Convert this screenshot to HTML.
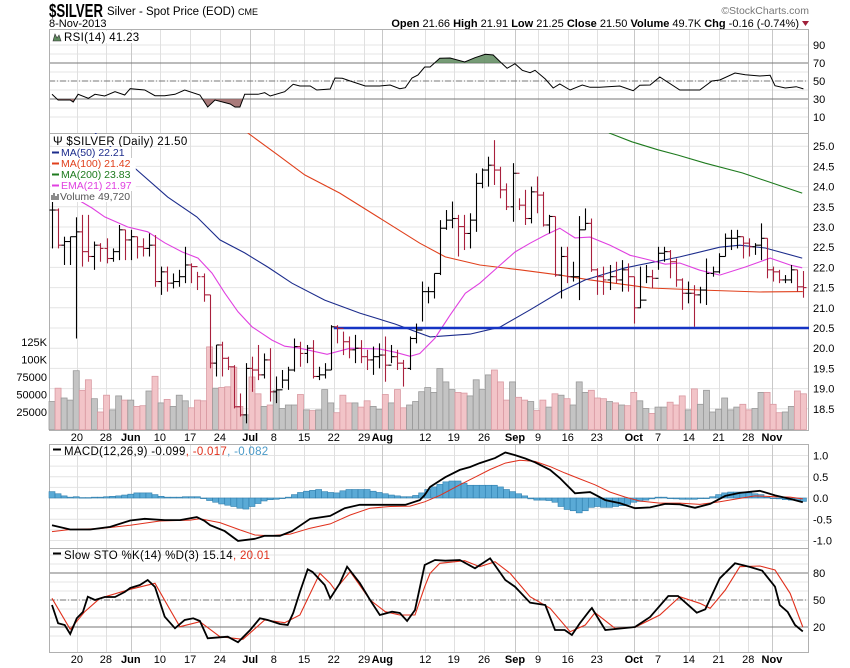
<!DOCTYPE html>
<html><head><meta charset="utf-8"><title>$SILVER chart</title>
<style>
html,body{margin:0;padding:0;background:#fff;}
svg{display:block;font-family:"Liberation Sans",sans-serif;}
</style></head>
<body>
<svg id="chart" width="850" height="668" viewBox="0 0 850 668" xmlns="http://www.w3.org/2000/svg">
<defs>
<clipPath id="clipAbove70"><rect x="49" y="29" width="760" height="34"/></clipPath>
<clipPath id="clipBelow30"><rect x="49" y="99" width="760" height="34"/></clipPath>
<clipPath id="clipPrice"><rect x="49" y="133" width="760" height="297"/></clipPath>
</defs>
<text x="49" y="17" font-size="18" font-weight="bold" fill="#000" textLength="54" lengthAdjust="spacingAndGlyphs">$SILVER</text>
<text x="107" y="15" font-size="11.5" fill="#000">Silver - Spot Price (EOD) <tspan font-size="9">CME</tspan></text>
<text x="49" y="27" font-size="11" fill="#000">8-Nov-2013</text>
<text x="809" y="14" font-size="10.5" fill="#777" text-anchor="end">©StockCharts.com</text>
<text x="799" y="27" font-size="11" fill="#000" text-anchor="end"><tspan font-weight="bold">Open</tspan> 21.66  <tspan font-weight="bold">High</tspan> 21.91  <tspan font-weight="bold">Low</tspan> 21.25  <tspan font-weight="bold">Close</tspan> 21.50  <tspan font-weight="bold">Volume</tspan> 49.7K  <tspan font-weight="bold">Chg</tspan> -0.16 (-0.74%)</text>
<polygon points="802,21 809,21 805.5,26" fill="#a0203a"/>
<g id="grid"></g>
<g id="marks"></g>
<g id="labels"></g>
</svg>
<script>
// ---------- DATA ----------
const priceHigh = [23.67,23.46,22.76,22.76,23.24,23.30,23.30,22.64,22.60,22.72,22.47,23.05,22.93,22.93,22.76,22.72,22.84,22.80,22.02,22.02,21.85,21.94,22.51,22.10,21.89,21.85,21.32,20.08,20.16,19.79,19.58,18.88,19.63,19.79,20.08,19.87,20.00,19.30,19.46,19.54,20.24,20.16,20.08,20.20,19.54,19.63,20.57,20.57,20.41,20.29,20.33,20.20,19.96,20.04,20.12,20.29,20.08,19.96,19.71,20.29,20.61,21.65,21.52,21.85,23.17,23.42,23.63,23.30,23.30,23.34,24.33,24.45,24.74,25.15,24.49,24.08,24.58,23.71,23.92,24.00,24.25,23.87,23.30,23.26,22.51,22.51,22.14,23.27,23.46,23.21,21.98,22.02,22.06,22.14,22.18,22.10,21.77,22.02,22.06,21.94,22.51,22.51,22.43,22.22,21.73,21.65,21.56,21.52,22.22,22.02,22.35,22.84,22.93,22.93,22.76,22.72,22.60,23.09,22.72,22.02,21.94,21.81,22.06,21.94,21.91];
const priceLow = [22.47,22.47,22.06,22.06,20.24,22.02,22.14,21.94,22.14,22.10,22.14,22.18,22.18,22.18,22.22,22.27,22.27,21.52,21.32,21.40,21.48,21.52,21.61,21.61,21.44,21.15,19.50,19.30,19.30,19.46,18.51,18.31,18.14,18.92,19.21,19.25,18.68,18.64,19.01,18.97,19.42,19.54,19.63,19.25,19.21,19.25,19.46,20.12,19.83,19.75,19.63,19.63,19.46,19.34,19.50,19.17,19.63,19.46,19.05,19.46,20.12,20.66,21.11,21.23,21.81,22.93,22.97,22.27,22.43,22.47,22.88,23.96,24.00,24.04,23.71,23.42,23.13,23.42,23.05,23.09,23.34,23.01,22.84,21.77,21.23,21.61,21.65,21.19,22.93,21.89,21.32,21.32,21.44,21.61,21.40,21.40,20.61,20.99,21.61,21.48,21.94,22.14,21.73,21.52,20.95,21.11,20.53,21.11,21.07,21.77,21.85,22.27,22.43,22.47,22.22,22.27,22.31,22.18,21.73,21.65,21.61,21.61,21.61,21.40,21.25];
const priceClose = [23.42,22.55,22.64,22.76,22.88,22.39,22.27,22.55,22.47,22.22,22.39,22.93,22.68,22.76,22.51,22.47,22.55,21.65,21.89,21.61,21.65,21.77,22.06,22.02,21.77,21.32,19.63,20.08,19.75,19.54,18.55,18.35,19.50,19.46,19.34,19.71,18.92,18.97,19.21,19.46,20.04,19.87,20.00,19.30,19.34,19.46,20.53,20.49,20.16,19.96,20.00,19.79,19.71,19.79,19.83,19.58,19.79,19.63,19.50,20.24,20.45,21.40,21.40,21.85,22.97,23.17,23.21,23.01,22.84,23.17,24.08,24.41,24.53,24.41,23.92,23.50,24.33,23.54,23.21,23.87,23.79,23.05,23.26,21.81,22.27,21.77,21.77,22.93,23.09,21.94,21.77,21.69,21.77,21.69,21.94,21.77,21.00,21.19,21.77,21.73,22.35,22.39,22.14,21.69,21.36,21.36,21.32,21.44,21.85,21.89,22.27,22.72,22.72,22.76,22.60,22.51,22.55,22.72,21.94,21.89,21.69,21.69,21.94,21.52,21.50];
const volumeK = [40,59,45,42,84,56,71,44,25,49,28,48,42,42,33,34,55,76,38,43,33,49,41,31,42,41,118,59,60,61,89,33,21,75,51,33,35,56,30,35,35,50,28,27,28,57,38,24,49,38,38,32,41,33,29,50,38,57,31,35,40,54,60,53,87,68,57,53,52,48,71,57,78,85,68,42,68,46,42,40,27,42,32,51,49,44,35,68,53,56,45,44,40,38,35,34,53,41,30,23,32,32,39,35,48,28,58,36,56,25,29,45,28,32,36,28,30,53,53,36,24,25,33,55,51];

const ma50Idx = [7.1,12.5,19.1,23.9,27.7,31.8,35.6,39.6,45,50.8,56.6,62.4,69,73.9,78.9,83.8,88,94.6,103.6,110.2,113.5,117.7,123.8];
const ma50Val = [25.33,24.61,23.74,23.25,22.68,22.36,22.01,21.61,21.19,20.87,20.60,20.28,20.35,20.52,20.95,21.39,21.69,21.99,22.26,22.50,22.55,22.48,22.23];
const ma100Idx = [32.3,37.3,41.7,47.5,54.1,60.7,64.9,70.6,77.2,83.8,88.8,98.7,106.9,116.8,123.9];
const ma100Val = [25.33,24.78,24.29,23.84,23.22,22.60,22.26,22.06,21.94,21.81,21.69,21.49,21.44,21.39,21.40];
const ma200Idx = [91.9,95.7,100,103.3,107.8,113.9,123.8];
const ma200Val = [25.33,25.11,24.91,24.78,24.58,24.34,23.84];
const emaIdx = [4.3,6.6,8.7,12.5,15.8,18.6,21.5,24.1,26.4,28.5,30.7,33,36.3,38.4,40.9,45.4,49.2,54.1,56.6,59.1,60.7,63.2,65.7,68.2,70.6,73.9,76.4,78.9,81.4,83.8,86.3,88.8,92.1,95.4,98.7,101.2,103.6,106.9,110.2,114.4,118.5,121.8,123.8];
const emaVal = [23.67,23.47,23.25,23.00,22.88,22.61,22.38,22.23,21.86,21.37,20.90,20.53,20.20,20.05,20.00,19.85,20.00,19.98,19.90,19.80,19.87,20.25,20.82,21.36,21.61,22.05,22.38,22.60,22.80,22.97,22.73,22.75,22.55,22.30,22.18,22.08,22.11,21.93,21.81,22.01,22.23,22.06,21.99];
const supportLevel = 20.5;
const supportStartIdx = 47;

const rsiIdx = [0,1,3,3.5,4.3,6,7.1,8.7,10.4,12,12.9,15.3,17,18.6,20.3,21.9,24.4,25.7,26.9,29.4,30.2,31,31.8,34,35.1,36,38.4,39.8,40.9,42.6,43.7,45.9,46.7,47.9,49.2,51.7,54.1,55.8,57.4,58.3,59.4,60.4,61.5,62.4,64,65.7,68.1,69.8,71.5,72.8,74,75.1,76.4,77.6,78.9,79.7,81.4,82.7,83.8,85.5,87.5,88.8,90.4,93.7,95.9,97,98.7,100.3,103.6,106.9,108.9,110.2,112.7,114.4,116.8,118.5,119.3,121,122.8,124];
const rsiVal = [35.2,28.9,28.9,26.7,35.2,30.8,35.2,33.3,38.1,34.4,41.4,40,33.7,33.7,35.2,40,34.4,21.1,28.9,24.4,21.1,21.1,35.2,35.2,37,33.3,38.1,46.3,44.4,44.4,40,41.1,53.3,53,50,44.4,44.4,45.6,41.4,42.6,53.3,56.7,65.6,65.6,75.2,75.6,71.1,75.9,79.7,78.9,71.1,64.1,69.2,61.9,59.2,61.9,52.2,42.2,46.7,40,45.6,43,43,44.4,39.2,45.2,45.6,54.4,40,40,50,51.1,58.9,57,55.6,56.3,44.8,42.2,43.7,41.2];

const macdIdx = [0,3,6.3,9.6,12.9,15.3,18.6,21.1,23.9,25.2,26.1,28.5,30.7,33.5,35.1,37.6,39.6,42.6,45.9,48.3,50.8,54.1,58.3,60.7,61.5,62.4,64.9,67.3,69,70.6,73.1,74.8,76.4,78.1,79.7,82.2,83.8,86.3,88.8,91.3,93.7,96.2,98.7,101.2,103.6,106.1,108.6,111.1,113.5,116.8,119.3,121.8,123.9];
const macdVal = [-0.64,-0.74,-0.74,-0.68,-0.53,-0.49,-0.52,-0.52,-0.45,-0.54,-0.64,-0.78,-1.01,-0.96,-0.89,-0.89,-0.78,-0.49,-0.42,-0.24,-0.16,-0.16,-0.16,-0.05,0.07,0.26,0.49,0.66,0.73,0.82,0.94,1.07,1.01,0.93,0.84,0.66,0.47,0.11,0.14,-0.05,-0.12,-0.24,-0.22,-0.14,-0.15,-0.23,-0.14,0.05,0.12,0.17,0.06,-0.02,-0.10];
const signalIdx = [0,3,7.9,12.9,17.8,22.8,24.4,27.7,31,33.5,36,39.3,42.6,45.9,49.2,52.5,55.8,59.1,61.5,64,67.3,69.8,72.3,74.8,77.2,79.7,82.2,84.6,87.1,89.6,92.1,94.6,97,100.3,103.6,106.9,110.2,113.5,116,119.3,121.8,123.9];
const signalVal = [-0.79,-0.74,-0.72,-0.64,-0.54,-0.52,-0.49,-0.58,-0.75,-0.87,-0.89,-0.85,-0.71,-0.61,-0.40,-0.24,-0.20,-0.19,-0.09,0.06,0.31,0.49,0.67,0.82,0.89,0.86,0.74,0.59,0.45,0.31,0.14,0.02,-0.07,-0.12,-0.12,-0.15,-0.09,-0.01,0.05,0.03,0.02,-0.02];
const histVal = [0.15,0.10,0.05,0.02,0.03,0.01,0.01,0.02,0.02,0.03,0.04,0.05,0.07,0.09,0.12,0.12,0.12,0.08,0.04,0.02,0.02,0.02,0.03,0.03,0.03,0.0,-0.06,-0.10,-0.14,-0.17,-0.20,-0.24,-0.26,-0.20,-0.13,-0.07,-0.04,-0.03,-0.01,0.02,0.08,0.13,0.16,0.18,0.20,0.15,0.13,0.12,0.17,0.20,0.20,0.20,0.20,0.16,0.13,0.10,0.07,0.05,0.03,0.03,0.06,0.12,0.20,0.26,0.32,0.38,0.40,0.40,0.35,0.30,0.30,0.30,0.30,0.30,0.26,0.20,0.15,0.10,0.05,-0.02,-0.05,-0.05,-0.06,-0.10,-0.20,-0.27,-0.30,-0.35,-0.30,-0.22,-0.20,-0.22,-0.22,-0.20,-0.18,-0.15,-0.10,-0.08,-0.05,-0.02,0.02,0.02,0.0,-0.02,-0.03,-0.03,-0.03,-0.01,0.0,0.03,0.08,0.12,0.14,0.14,0.14,0.12,0.10,0.08,0.02,0.0,-0.02,-0.04,-0.05,-0.06,-0.08];

const stoKIdx = [0,1,2.1,3,4.1,5.1,5.9,7.1,8.7,10.4,12,12.9,14.5,15.8,17,18.6,20.3,21.9,23.3,24.4,25.7,27.7,29,30.7,32.7,34.3,35.6,37.6,38.9,39.8,40.9,42.2,43,45,45.9,47.5,48.7,50.8,52.5,54.1,56.1,57.4,58.6,59.9,61.5,63.2,64.9,67.3,69.8,72.3,74.8,76.4,78.9,81.4,83,84.6,85.8,87.1,88.8,89.1,91.3,94.6,96.2,98.7,101.7,103.3,105.3,106.4,107.8,110.2,112.7,115.2,117.2,119.3,120.1,121.4,122.6,123.9];
const stoKVal = [44.4,24.1,22.2,12.2,29.7,36.7,53.7,50,53.3,53.3,58.9,63.3,66.7,72.2,64.4,31.4,18.6,27.8,29.7,26.7,7.4,8.6,9.2,3,16.7,29.7,27.8,23.3,22.2,35.6,58.9,84.1,81.1,66.7,51.9,68.6,87,68.9,50,33.3,37,35.6,26.7,38.9,88.9,94.4,93.7,94.4,85.2,96.3,72.2,64.8,47,44.4,16.7,16.7,11.1,24.1,38.9,41.1,16.7,18.9,20,31.1,54.4,54.4,42.6,35.9,39.7,74.1,90.8,86.7,82.6,64.8,44.4,36.7,22.2,15.1];
const stoDIdx = [0,3,5.4,7.9,12.9,17,19.5,21.1,24.4,27.7,31.5,35.1,38.4,40.9,44.2,45.9,46.7,49.2,52.5,55,57.4,59.9,61.5,62.4,64,68.1,70.6,73.1,75.6,78.9,82.2,85.5,88,89.6,92.9,96.2,100.3,103.6,106.9,108.6,111.1,113.5,116.8,119.3,121.8,123.9];
const stoDVal = [51.9,17.4,37,51.9,61.9,68.6,38.9,20.3,25.9,9.2,6.3,27.8,24.8,33.3,79.7,68.6,61.1,81.4,50,37,33.3,33.3,64.8,79.7,90.8,93.7,87,92.6,79.7,53.7,40.8,14.8,22.2,35.9,18.6,19.7,33.3,53.7,46.3,40.8,61.1,87,87.8,83.3,57.4,20.0];

const tickIdx = [4.1,8.9,13.0,17.8,22.8,27.7,32.7,36.6,41.6,46.5,51.5,54.5,61.6,66.3,71.3,76.4,80.2,85.1,89.9,96.0,100.0,105.1,110.0,114.9,118.8];
const tickLabels = ["20","28","Jun","10","17","24","Jul","8","15","22","29","Aug","12","19","26","Sep","9","16","23","Oct","7","14","21","28","Nov"];
const rsiTicks = [90,70,50,30,10];
const priceTicks = [18.5,19.0,19.5,20.0,20.5,21.0,21.5,22.0,22.5,23.0,23.5,24.0,24.5,25.0];
const volTicks = [25000,50000,75000,100000,125000];
const volTickLabels = ["25000","50000","75000","100K","125K"];
const macdTicks = [1.0,0.5,0.0,-0.5,-1.0];
const stoTicks = [80,50,20];

// ---------- SCALES ----------
const PL = 49, PR = 809;
const X = i => 52 + i * 6.06;
const yRSI = v => 126 - v * 0.9;
const yP = p => 328 - (p - 20.5) * 40.4;
const yV = k => 429.5 - k * 0.7;
const yM = v => 498 - v * 42.5;
const yS = v => 645 - v * 0.9;

const NS = "http://www.w3.org/2000/svg";
const gGrid = document.getElementById("grid");
const gMarks = document.getElementById("marks");
const gLab = document.getElementById("labels");
function mk(parent, tag, attrs) {
  const e = document.createElementNS(NS, tag);
  for (const k in attrs) e.setAttribute(k, attrs[k]);
  parent.appendChild(e);
  return e;
}
function txt(parent, x, y, s, attrs) {
  const e = mk(parent, "text", Object.assign({x: x, y: y, "font-size": 11, fill: "#000"}, attrs || {}));
  e.textContent = s;
  return e;
}
function pts(idx, val, fy) { return idx.map((v, k) => X(v).toFixed(1) + "," + fy(val[k]).toFixed(1)).join(" "); }

// ---------- PANELS & GRID ----------
const panels = [
  {name: "rsi-panel", top: 29, bot: 133},
  {name: "price-panel", top: 133, bot: 430},
  {name: "macd-panel", top: 444, bot: 548},
  {name: "stochastic-panel", top: 548, bot: 652}
];
panels.forEach(p => {
  const r = mk(gGrid, "rect", {x: PL, y: p.top, width: PR - PL, height: p.bot - p.top, fill: "#fff", stroke: "none"});
  
  
});
for (let v = 10; v <= 90; v += 10) {
  const l = mk(gGrid, "line", {x1: PL, x2: PR, y1: yRSI(v), y2: yRSI(v), stroke: "#e4e4e4", "stroke-width": 1});
  
  
}
priceTicks.forEach(v => {
  const l = mk(gGrid, "line", {x1: PL, x2: PR, y1: yP(v), y2: yP(v), stroke: "#e4e4e4", "stroke-width": 1});
  
  
});
for (let v = -1.0; v <= 1.01; v += 0.25) {
  const l = mk(gGrid, "line", {x1: PL, x2: PR, y1: yM(v), y2: yM(v), stroke: "#e4e4e4", "stroke-width": 1});
  
  
}
for (let v = 10; v <= 100; v += 10) {
  const l = mk(gGrid, "line", {x1: PL, x2: PR, y1: yS(v), y2: yS(v), stroke: "#e4e4e4", "stroke-width": 1});
  
  
}
tickIdx.forEach((ti, k) => {
  const x = Math.round(X(ti)) + 0.5;
  const month = isNaN(+tickLabels[k]);
  panels.forEach(p => {
    const l = mk(gGrid, "line", {x1: x, x2: x, y1: p.top, y2: p.bot, stroke: month ? "#c8c8c8" : "#e0e0e0", "stroke-width": 1});
    
    
  });
});
[[yRSI(70), "none"], [yRSI(30), "none"], [yRSI(50), "6,2,1,2"], [yS(80), "none"], [yS(20), "none"], [yS(50), "6,2,1,2"]].forEach(([y, d]) => {
  const l = mk(gGrid, "line", {x1: PL, x2: PR, y1: y, y2: y, stroke: "#777", "stroke-width": 1, "stroke-dasharray": d});
  
  
});
panels.forEach(p => {
  const r = mk(gGrid, "rect", {x: PL + 0.5, y: p.top + 0.5, width: PR - PL - 1, height: p.bot - p.top, fill: "none", stroke: "#b0b0b0", "stroke-width": 1});
  
  
});

// ---------- RSI ----------
{
  const line = pts(rsiIdx, rsiVal, yRSI);
  const first = X(rsiIdx[0]).toFixed(1), last = X(rsiIdx[rsiIdx.length - 1]).toFixed(1);
  const up = mk(gMarks, "polygon", {points: first + "," + yRSI(70) + " " + line + " " + last + "," + yRSI(70), fill: "#5e8a5e", "fill-opacity": 0.85, "clip-path": "url(#clipAbove70)"});
  
  
  const dn = mk(gMarks, "polygon", {points: first + "," + yRSI(30) + " " + line + " " + last + "," + yRSI(30), fill: "#9a6464", "fill-opacity": 0.85, "clip-path": "url(#clipBelow30)"});
  
  
  const pl = mk(gMarks, "polyline", {points: line, fill: "none", stroke: "#000", "stroke-width": 1});
  
  
}

// ---------- VOLUME ----------
volumeK.forEach((v, i) => {
  const down = i > 0 && priceClose[i] < priceClose[i - 1];
  const y = yV(v);
  const r = mk(gMarks, "rect", {x: X(i) - 3, y: y, width: 6, height: 429.5 - y, fill: down ? "#f2c4c8" : "#c4c4c4", stroke: down ? "#d99aa2" : "#9a9a9a", "stroke-width": 0.8});
  
  
});

// ---------- MOVING AVERAGES ----------
[[ma100Idx, ma100Val, "#e0401c", "ma100-line"], [ma50Idx, ma50Val, "#1c2c8c", "ma50-line"], [ma200Idx, ma200Val, "#1e7a1e", "ma200-line"], [emaIdx, emaVal, "#e040e0", "ema21-line"]].forEach(([ix, vv, c, n]) => {
  const pl = mk(gMarks, "polyline", {points: pts(ix, vv, yP), fill: "none", stroke: c, "stroke-width": 1.1, "clip-path": "url(#clipPrice)"});
  
  
});
{
  const sl = mk(gMarks, "line", {x1: X(supportStartIdx) - 3, x2: PR, y1: yP(supportLevel), y2: yP(supportLevel), stroke: "#1534c4", "stroke-width": 2.5});
  
  
}

// ---------- PRICE BARS ----------
priceClose.forEach((c, i) => {
  const open = i > 0 ? priceClose[i - 1] : c;
  const down = i > 0 && c < priceClose[i - 1];
  const col = down ? "#a8203c" : "#000";
  const x = Math.round(X(i)) + 0.5;
  const g = mk(gMarks, "g", {stroke: col, "stroke-width": 1.1});
  
  
  mk(g, "line", {x1: x, x2: x, y1: yP(priceHigh[i]), y2: yP(priceLow[i])});
  mk(g, "line", {x1: x - 3, x2: x, y1: yP(open), y2: yP(open)});
  mk(g, "line", {x1: x, x2: x + 3, y1: yP(c), y2: yP(c)});
});

// ---------- MACD ----------
histVal.forEach((v, i) => {
  const y0 = yM(0), y1 = yM(v);
  const r = mk(gMarks, "rect", {x: X(i) - 3, y: Math.min(y0, y1), width: 6, height: Math.max(0.6, Math.abs(y1 - y0)), fill: "#5aaad6", stroke: "#2f7fae", "stroke-width": 0.6});
  
  
});
{
  const s = mk(gMarks, "polyline", {points: pts(signalIdx, signalVal, yM), fill: "none", stroke: "#e0301c", "stroke-width": 1});
  
  
  const m = mk(gMarks, "polyline", {points: pts(macdIdx, macdVal, yM), fill: "none", stroke: "#000", "stroke-width": 1.8});
  
  
}

// ---------- STOCHASTIC ----------
{
  const d = mk(gMarks, "polyline", {points: pts(stoDIdx, stoDVal, yS), fill: "none", stroke: "#e0301c", "stroke-width": 1.1});
  
  
  const k = mk(gMarks, "polyline", {points: pts(stoKIdx, stoKVal, yS), fill: "none", stroke: "#000", "stroke-width": 1.8});
  
  
}

// ---------- AXIS LABELS ----------
rsiTicks.forEach(v => {
  const t = txt(gLab, 813, yRSI(v) + 4, String(v));
  
  
});
priceTicks.forEach(v => {
  const t = txt(gLab, 813, yP(v) + 4, v.toFixed(1));
  
  
});
volTicks.forEach((v, k) => {
  const t = txt(gLab, 47, yV(v / 1000) + 4, volTickLabels[k], {"text-anchor": "end"});
  
  
});
macdTicks.forEach(v => {
  const t = txt(gLab, 813, yM(v) + 4, v.toFixed(1));
  
  
});
stoTicks.forEach(v => {
  const t = txt(gLab, 813, yS(v) + 4, String(v));
  
  
});
tickIdx.forEach((ti, k) => {
  const month = isNaN(+tickLabels[k]);
  [441, 663].forEach(y => {
    const t = txt(gLab, X(ti), y, tickLabels[k], {"text-anchor": "middle", "font-weight": month ? "bold" : "normal"});
    
    
  });
});

// ---------- TITLES / LEGENDS ----------
function legendLine(x, y, color, label, name) {
  const b = mk(gLab, "rect", {x: x - 1, y: y - 9, width: label.length * 5.6 + 12, height: 11, fill: "#fff"});
  
  
  const l = mk(gLab, "line", {x1: x, x2: x + 7, y1: y - 3.5, y2: y - 3.5, stroke: color, "stroke-width": 2});
  
  
  const t = txt(gLab, x + 9, y, label, {fill: color, "font-size": 10.5});
  
  
}
{
  const b = mk(gLab, "rect", {x: 52, y: 31, width: 92, height: 12, fill: "#fff"});
  
  
  const ic = mk(gLab, "polygon", {points: "53,41 55,34 57,38 59,35 61,41", fill: "#5e8a5e", stroke: "#333", "stroke-width": 0.6});
  
  
  const t = txt(gLab, 64, 41, "RSI(14) 41.23", {"font-size": 11.5, "letter-spacing": "0.3"});
  
  
}
{
  const b = mk(gLab, "rect", {x: 52, y: 134, width: 136, height: 12, fill: "#fff"});
  
  
  const t = txt(gLab, 53, 145, "\u03a8 $SILVER (Daily) 21.50", {"font-size": 11.5, "letter-spacing": "0.3"});
  
  
}
legendLine(52, 156, "#1c2c8c", "MA(50) 22.21", "legend-ma50");
legendLine(52, 167, "#e0401c", "MA(100) 21.42", "legend-ma100");
legendLine(52, 178, "#1e7a1e", "MA(200) 23.83", "legend-ma200");
legendLine(52, 189, "#e040e0", "EMA(21) 21.97", "legend-ema21");
{
  const b = mk(gLab, "rect", {x: 51, y: 191, width: 80, height: 11, fill: "#fff"});
  
  
  const ic = mk(gLab, "path", {d: "M52,200 v-5 M54,200 v-7 M56,200 v-4 M58,200 v-6", stroke: "#666", "stroke-width": 1.5});
  
  
  const t = txt(gLab, 60, 200, "Volume 49,720", {fill: "#555", "font-size": 10.5});
  
  
}
{
  const l = mk(gLab, "line", {x1: 53, x2: 61, y1: 449.5, y2: 449.5, stroke: "#000", "stroke-width": 2});
  
  
  const t = mk(gLab, "text", {x: 64, y: 455, "font-size": 11.5, fill: "#000", "letter-spacing": "0.3"});
  t.innerHTML = 'MACD(12,26,9) -0.099<tspan fill="#e0301c">, -0.017</tspan><tspan fill="#4a9ac8">, -0.082</tspan>';
  
  
}
{
  const l = mk(gLab, "line", {x1: 53, x2: 61, y1: 553.5, y2: 553.5, stroke: "#000", "stroke-width": 2});
  
  
  const t = mk(gLab, "text", {x: 64, y: 559, "font-size": 11.5, fill: "#000", "letter-spacing": "0.3"});
  t.innerHTML = 'Slow STO %K(14) %D(3) 15.14<tspan fill="#e0301c">, 20.01</tspan>';
  
  
}
</script>
</body></html>
